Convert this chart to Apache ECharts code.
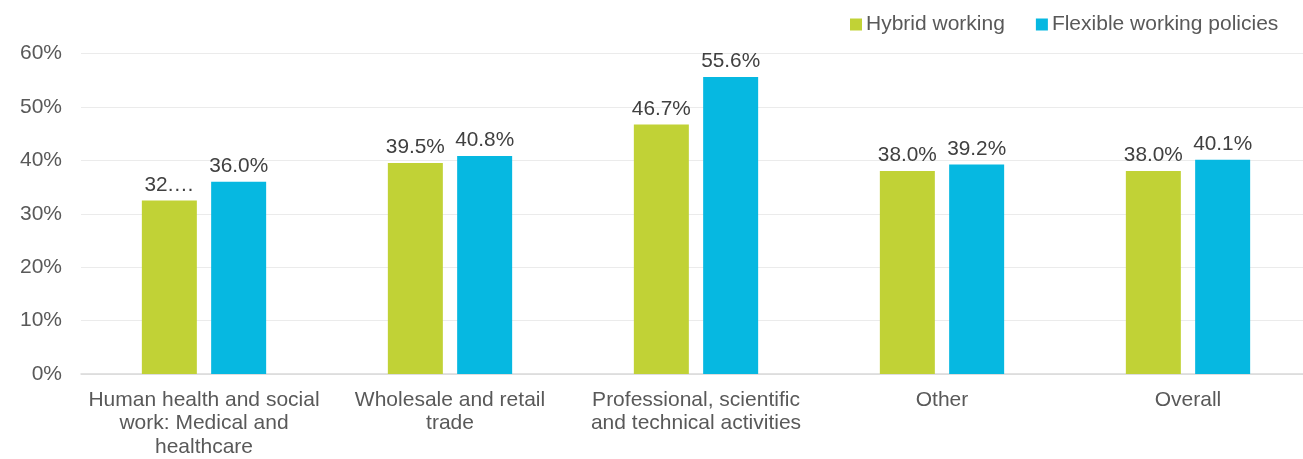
<!DOCTYPE html>
<html>
<head>
<meta charset="utf-8">
<script src="https://cdn.jsdelivr.net/npm/echarts@6/dist/echarts.min.js"></script>
<style>
  html, body { margin: 0; padding: 0; background: #ffffff; overflow: hidden; }
  /* the plot area runs slightly past the right edge of the window */
  #chart { width: 1311px; height: 459px; }
</style>
</head>
<body>
<div id="chart"></div>
<script>
// Sectors shown along the x axis
const categories = [
  'Human health and social\nwork: Medical and\nhealthcare',
  'Wholesale and retail\ntrade',
  'Professional, scientific\nand technical activities',
  'Other',
  'Overall'
];
const seriesNames = ['Hybrid working', 'Flexible working policies'];
// Percent of employers offering each arrangement
const hybridValues = [32.5, 39.5, 46.7, 38.0, 38.0];
const flexibleValues = [36.0, 40.8, 55.6, 39.2, 40.1];
const yTicks = [0, 10, 20, 30, 40, 50, 60];

const FONT = '"Liberation Sans", Arial, Helvetica, sans-serif';
const TEXT = '#595959';
const FS = 21;
const colors = ['#C1D236', '#06B8E1'];

// The first label is squeezed into a narrow box and ends in an ellipsis
function buildData(values, clipFirst) {
  return values.map((v, i) => {
    if (clipFirst && i === 0) {
      return { value: v, label: { width: 57.5, overflow: 'truncate', ellipsis: '…' } };
    }
    return v;
  });
}

const chart = echarts.init(document.getElementById('chart'), null, { renderer: 'canvas' });

const labelStyle = {
  show: true,
  position: 'top',
  distance: 5,
  color: '#404040',
  fontFamily: FONT,
  fontSize: 20.8,
  formatter: p => p.value.toFixed(1) + '%'
};

chart.setOption({
  animation: false,
  backgroundColor: '#ffffff',
  textStyle: { fontFamily: FONT },
  legend: {
    data: seriesNames,
    top: 9,
    left: 845,
    itemWidth: 12,
    itemHeight: 12,
    itemGap: 31,
    icon: 'rect',
    textStyle: { color: TEXT, fontSize: FS, fontFamily: FONT, padding: [0, 0, 0, -1] }
  },
  grid: { left: 81, right: 0, top: 53.5, bottom: 85 },
  xAxis: {
    type: 'category',
    data: categories,
    axisTick: { show: false },
    axisLine: { lineStyle: { color: '#D9D9D9', width: 1.5 } },
    axisLabel: {
      color: TEXT,
      fontSize: FS,
      fontFamily: FONT,
      lineHeight: 23.5,
      margin: 14,
      interval: 0
    }
  },
  yAxis: {
    type: 'value',
    min: yTicks[0],
    max: yTicks[yTicks.length - 1],
    interval: yTicks[1] - yTicks[0],
    axisLine: { show: false },
    axisTick: { show: false },
    splitLine: { lineStyle: { color: '#EBEBEB', width: 1.2 } },
    axisLabel: {
      color: TEXT,
      fontSize: FS,
      fontFamily: FONT,
      margin: 19,
      formatter: '{value}%'
    }
  },
  series: [
    {
      name: seriesNames[0],
      type: 'bar',
      data: buildData(hybridValues, true),
      itemStyle: { color: colors[0] },
      barWidth: 55,
      barGap: '26%',
      label: labelStyle
    },
    {
      name: seriesNames[1],
      type: 'bar',
      data: buildData(flexibleValues, false),
      itemStyle: { color: colors[1] },
      barWidth: 55,
      barGap: '26%',
      label: labelStyle
    }
  ]
});
</script>
</body>
</html>
